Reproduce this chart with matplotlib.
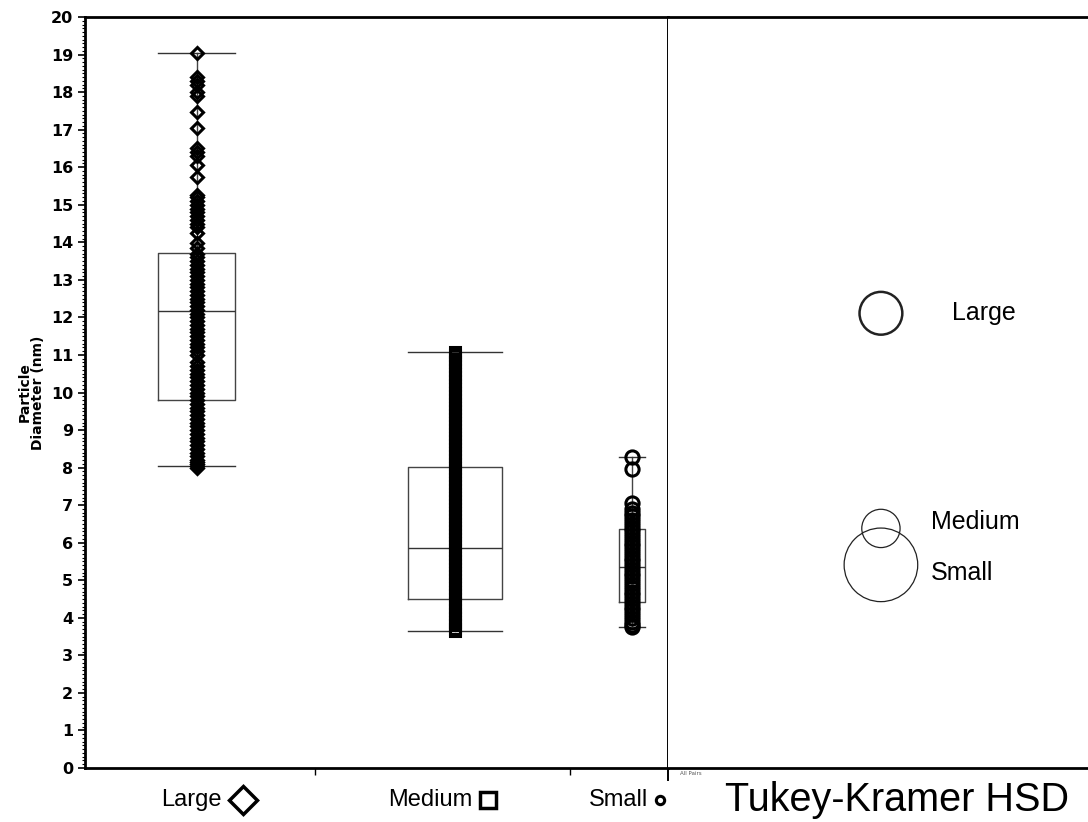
import numpy as np
import matplotlib
matplotlib.use("Agg")
import matplotlib.pyplot as plt
from matplotlib.patches import Circle
from matplotlib.ticker import MultipleLocator

# --- data ---
groups = ["Large", "Medium", "Small"]

large_pts = [8.0, 8.05, 8.1, 8.15, 8.2, 8.3, 8.4, 8.5, 8.6, 8.7, 8.8, 8.9, 9.0, 9.1,
             9.2, 9.3, 9.4, 9.5, 9.6, 9.7, 9.8, 9.9, 10.0, 10.1, 10.2, 10.3, 10.4,
             10.5, 10.6, 10.7, 10.8, 11.0, 11.1, 11.2, 11.3, 11.4, 11.5, 11.6, 11.7,
             11.8, 11.9, 12.0, 12.1, 12.2, 12.3, 12.4, 12.5, 12.6, 12.7, 12.8, 12.9,
             13.0, 13.1, 13.2, 13.3, 13.4, 13.5, 13.6, 13.7, 13.85, 13.98, 14.25,
             14.4, 14.5, 14.6, 14.7, 14.8, 14.9, 15.0, 15.1, 15.2, 15.26, 15.75,
             16.06, 16.3, 16.4, 16.5, 17.04, 17.47, 17.9, 18.0, 18.2, 18.3, 18.4,
             19.04]

medium_pts = [3.65, 3.7, 3.8, 3.9, 4.0, 4.1, 4.2, 4.3, 4.4, 4.5, 4.6, 4.7, 4.8,
              4.9, 5.0, 5.1, 5.2, 5.3, 5.4, 5.5, 5.6, 5.7, 5.8, 5.9, 6.0, 6.1, 6.2,
              6.3, 6.4, 6.5, 6.6, 6.7, 6.8, 6.9, 7.0, 7.1, 7.2, 7.3, 7.4, 7.5, 7.6,
              7.7, 7.8, 7.9, 8.0, 8.1, 8.2, 8.3, 8.4, 8.5, 8.6, 8.7, 8.8, 8.9, 9.0,
              9.1, 9.2, 9.3, 9.4, 9.5, 9.6, 9.7, 9.8, 9.9, 10.0, 10.1, 10.2, 10.3,
              10.4, 10.5, 10.6, 10.7, 10.8, 10.9, 11.0, 11.08]

small_pts = [3.75, 3.8, 3.9, 4.0, 4.1, 4.2, 4.3, 4.4, 4.5, 4.6, 4.7, 4.8, 4.9,
             5.0, 5.1, 5.2, 5.3, 5.4, 5.5, 5.6, 5.7, 5.8, 5.9, 6.0, 6.1, 6.2, 6.3,
             6.4, 6.5, 6.6, 6.7, 6.8, 6.9, 7.05, 7.95, 8.28]

# box stats: lower whisker, Q1, median, Q3, upper whisker
whislo = [8.04, 3.65, 3.75]
q1 = [9.8, 4.5, 4.42]
med = [12.17, 5.86, 5.35]
q3 = [13.71, 8.02, 6.36]
whishi = [19.04, 11.08, 8.28]

# comparison circles (mean, radius)
circ_labels = ["Large", "Medium", "Small"]
circ_center = [12.11, 6.38, 5.41]
circ_radius = [0.57, 0.51, 0.98]

# --- layout ---
pos = [0.192, 0.635, 0.938]
widths = [0.132, 0.161, 0.045]
markers = ["D", "s", "o"]
msizes = [6.5, 7.5, 9.5]

fig = plt.figure(figsize=(10.88, 8.22), dpi=100)
ax = fig.add_axes([0.0781, 0.0657, 0.5358, 0.9136])
ax2 = fig.add_axes([0.614, 0.0657, 0.386, 0.9136], sharey=ax)

stats = []
for i, g in enumerate(groups):
    stats.append(dict(label=g, whislo=whislo[i], q1=q1[i], med=med[i],
                      q3=q3[i], whishi=whishi[i]))
ax.bxp(stats, positions=pos, widths=widths, capwidths=widths, showfliers=False,
       manage_ticks=False,
       boxprops=dict(color="#444444", lw=1.0),
       medianprops=dict(color="#333333", lw=1.0),
       whiskerprops=dict(color="#444444", lw=1.0),
       capprops=dict(color="#333333", lw=1.0))

for i, pts in enumerate([large_pts, medium_pts, small_pts]):
    ax.plot([pos[i]] * len(pts), pts, linestyle="none", marker=markers[i],
            ms=msizes[i], mfc="none", mec="black", mew=2.2, zorder=3)

ax.set_xlim(0, 1)
ax.set_ylim(0, 20)
ax.yaxis.set_major_locator(MultipleLocator(1))
ax.yaxis.set_minor_locator(MultipleLocator(0.1))
ax.tick_params(axis="y", which="major", length=5, width=1.2, labelsize=11.5)
ax.tick_params(axis="y", which="minor", length=2.5, width=0.8)
for lab in ax.get_yticklabels():
    lab.set_fontweight("bold")
ax.set_xticks([0.395, 0.832])
ax.set_xticklabels([])
ax.tick_params(axis="x", length=5, width=1)
ax.set_ylabel("Particle\nDiameter (nm)", fontsize=10, fontweight="bold",
              linespacing=1.0, labelpad=4)

for side in ["left", "bottom", "top"]:
    ax.spines[side].set_linewidth(2)
ax.spines["right"].set_linewidth(1.4)

# group labels with their markers under the axis
xt = ax.get_xaxis_transform()
lab_x = [0.235, 0.664, 0.966]
sym_x = [0.271, 0.691, 0.987]
sym_ms = [14, 11, 6]
sym_mew = [2.5, 2.5, 2.2]
for i, g in enumerate(groups):
    ax.text(lab_x[i], -0.043, g, transform=xt, ha="right", va="center",
            fontsize=17, family="Liberation Sans")
    ax.plot([sym_x[i]], [-0.043], transform=xt, marker=markers[i], ms=sym_ms[i],
            mfc="none", mec="black", mew=sym_mew[i], clip_on=False)

ax.plot([1, 1], [-0.016, 0], transform=ax.transAxes, color="black", lw=1.4,
        clip_on=False)
ax.text(1.02, -0.007, "All Pairs", transform=ax.transAxes, fontsize=4,
        color="#555555", va="center")

# right panel: comparison circles
ax2.set_xlim(0, 11.185)
ax2.set_aspect("equal", adjustable="box")
for i, lab in enumerate(circ_labels):
    lw = 1.8 if i == 0 else 0.9
    ax2.add_patch(Circle((5.67, circ_center[i]), circ_radius[i], fill=False,
                         ec="#222222", lw=lw))
ax2.text(7.55, circ_center[0], circ_labels[0], fontsize=18,
         family="Liberation Sans", va="center")
ax2.text(7.0, 6.55, circ_labels[1], fontsize=18, family="Liberation Sans",
         va="center")
ax2.text(7.0, 5.2, circ_labels[2], fontsize=18, family="Liberation Sans",
         va="center")
ax2.set_xticks([])
ax2.tick_params(axis="y", left=False, labelleft=False, which="both")
ax2.spines["left"].set_visible(False)
ax2.spines["right"].set_visible(False)
ax2.spines["top"].set_linewidth(2)
ax2.spines["bottom"].set_linewidth(2)
ax2.text(0.545, -0.043, "Tukey-Kramer HSD", transform=ax2.transAxes, ha="center",
         va="center", fontsize=28.5, family="Liberation Sans")

fig.savefig("out.png", dpi=100)
